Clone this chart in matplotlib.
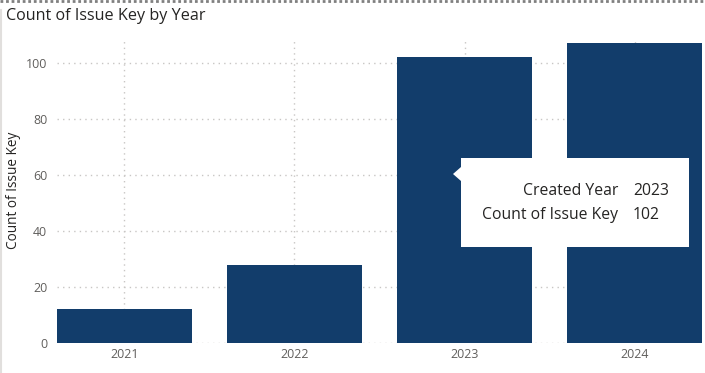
import matplotlib
matplotlib.use("Agg")
import matplotlib.pyplot as plt
from matplotlib.patches import Rectangle, Polygon
from matplotlib.lines import Line2D

years = ["2021", "2022", "2023", "2024"]
counts = [12, 28, 102, 107]
yticks = [0, 20, 40, 60, 80, 100]
title = "Count of Issue Key by Year"
ylabel = "Count of Issue Key"
tooltip_labels = ["Created Year", "Count of Issue Key"]
tooltip_values = ["2023", "102"]
next_visual_title = "Count of Employee and Count of Contractor"

plt.rcParams['font.family'] = ['Open Sans', 'DejaVu Sans']

W, H = 705, 373
fig = plt.figure(figsize=(W / 100, H / 100), dpi=100)
fig.patch.set_facecolor("white")

def fx(px):
    return px / W

def fy(py):
    return 1 - py / H

ax_w = fx(702) - fx(57)
ax = fig.add_axes([fx(57), fy(343), ax_w, fy(38) - fy(343)])
bar_color = "#123D6B"
width = 0.794
xs = list(range(len(years)))
ax.bar(xs, counts, width=width, color=bar_color, zorder=3, linewidth=0)
ax.set_xlim(-width / 2, len(years) - 1 + width / 2)
ax.set_ylim(0, 108.9)
ax.set_yticks(yticks)
ax.set_xticks(xs)
ax.set_xticklabels(years)
for s in ax.spines.values():
    s.set_visible(False)
ax.grid(True, axis="both", color="#C8C6C4", linestyle=(0, (1, 3)), linewidth=1, zorder=0)
ax.tick_params(axis="both", length=0, colors="#605E5C", labelsize=8.9)
ax.tick_params(axis="y", pad=7)
ax.tick_params(axis="x", pad=3.5)
ax.set_ylabel(ylabel, fontsize=9.8, color="#252423")
ax.yaxis.set_label_coords(-fx(36) / ax_w, 0.5, transform=None) if False else ax.yaxis.set_label_coords(-36 / 645, 0.5)

# title
fig.text(fx(6), fy(16), title, fontsize=11.6, color="#252423", ha="left", va="center")

# top dotted border and left border
fig.add_artist(Line2D([0, 1], [fy(1), fy(1)], color="#7F7F7F", linewidth=2,
                      linestyle=(0, (1, 1)), transform=fig.transFigure))
fig.add_artist(Line2D([fx(1), fx(1)], [fy(10), 0], color="#E1DFDD", linewidth=1.5,
                      transform=fig.transFigure))

# tooltip
fig.add_artist(Rectangle((fx(461), fy(247)), fx(689) - fx(461), fy(158) - fy(247),
                         facecolor="white", edgecolor="none", transform=fig.transFigure, zorder=10))
fig.add_artist(Polygon([(fx(461), fy(167)), (fx(453), fy(174)), (fx(461), fy(181))],
                       closed=True, facecolor="white", edgecolor="none",
                       transform=fig.transFigure, zorder=10))
for i, (lab, val) in enumerate(zip(tooltip_labels, tooltip_values)):
    yy = fy(191 + i * 23.5)
    fig.text(fx(618), yy, lab, fontsize=11.3, color="#252423", ha="right", va="center", zorder=11)
    fig.text(fx(633), yy, val, fontsize=11.3, color="#252423", ha="left", va="center", zorder=11)

# next visual title, clipped by the bottom edge (as in the reference)
fig.text(fx(6), fy(381), next_visual_title, fontsize=11.6, color="#252423",
         ha="left", va="center")

fig.savefig("out.png", dpi=100, facecolor="white")
